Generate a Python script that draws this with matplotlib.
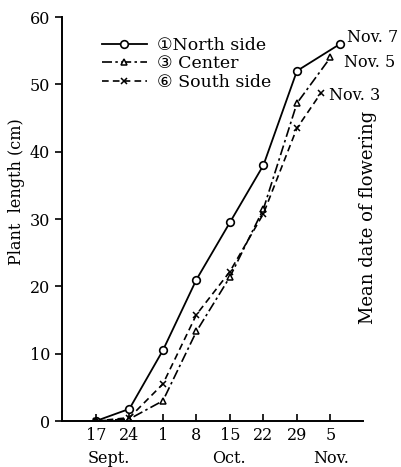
import matplotlib.pyplot as plt

plt.rcParams['font.family'] = ['DejaVu Serif', 'DejaVu Sans']

# days counted from Sept. 17
dias = [0, 7, 14, 21, 28, 35, 42]
norte_x = dias + [51]
norte = [0, 1.8, 10.5, 21.0, 29.5, 38.0, 52.0, 56.0]
centro_x = dias + [49]
centro = [0, 0.3, 3.0, 13.3, 21.4, 31.5, 47.2, 54.0]
sur_x = dias + [47]
sur = [0, 0.5, 5.5, 15.8, 22.2, 30.8, 43.5, 48.7]

ticks_x = [0, 7, 14, 21, 28, 35, 42, 49]
etiquetas_x = ["17", "24", "1", "8", "15", "22", "29", "5"]
meses = [("Sept.", 2.7), ("Oct.", 27.8), ("Nov.", 49.1)]
floracion = [("Nov. 7", 51, 56.0, (5, 4.5)),
             ("Nov. 5", 49, 54.0, (10, -3.5)),
             ("Nov. 3", 47, 48.7, (5.5, -1.5))]

fig = plt.figure(figsize=(4.02, 4.67), dpi=100)
ax = fig.add_axes([0.154, 0.0985, 0.749, 0.865])

ax.plot(norte_x, norte, color="black", lw=1.3, marker="o", ms=5.5,
        mfc="white", mew=1.2, label="\u2460North side")
ax.plot(centro_x, centro, color="black", lw=1.2, ls=(0, (6, 2, 1.5, 2)),
        marker="^", ms=4.5, mfc="white", mew=1.1, label="\u2462 Center")
ax.plot(sur_x, sur, color="black", lw=1.2, ls=(0, (4, 2.5)),
        marker="x", ms=4.5, mew=1.1, label="\u2465 South side")

ax.set_xlim(-7.1, 55.8)
ax.set_ylim(0, 60)
ax.set_xticks(ticks_x)
ax.set_xticklabels(etiquetas_x, fontsize=11.5)
ax.set_yticks([0, 10, 20, 30, 40, 50, 60])
ax.tick_params(axis="y", labelsize=11.5, direction="out", length=5, width=1.2)
ax.tick_params(axis="x", direction="in", length=5, width=1.2, pad=4)
ax.spines["top"].set_visible(False)
ax.spines["right"].set_visible(False)
ax.spines["left"].set_linewidth(1.4)
ax.spines["bottom"].set_linewidth(1.4)

for texto, x in meses:
    ax.text(x, -5.5, texto, ha="center", va="center", fontsize=11.5)

for texto, x, y, desp in floracion:
    ax.annotate(texto, (x, y), xytext=desp, textcoords="offset points",
                ha="left", va="center", fontsize=11.5)

ax.text(56.9, 30.2, "Mean date of flowering", rotation=90, ha="center",
        va="center", fontsize=13)
ax.text(-16.6, 34.0, "Plant  length (cm)", rotation=90, ha="center",
        va="center", fontsize=11.5)

ax.legend(loc="upper left", bbox_to_anchor=(0.08, 0.99), frameon=False,
          fontsize=12.5, handlelength=2.6, handletextpad=0.6, labelspacing=0.1)

fig.savefig("out.png", dpi=100)
